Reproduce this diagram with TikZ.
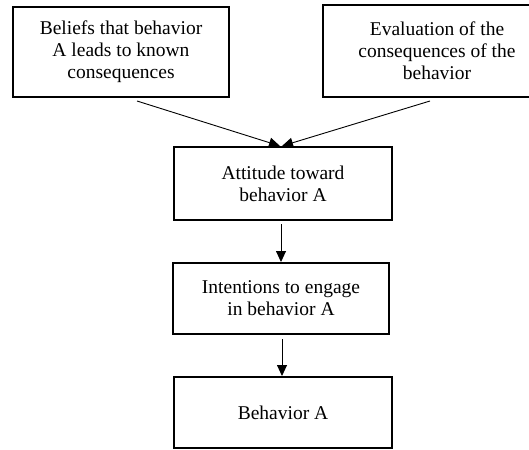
\documentclass[tikz,border=0pt]{standalone}
\usepackage{fontspec}
\setmainfont{Liberation Serif}
\usetikzlibrary{arrows.meta,calc}
\begin{document}
\begin{tikzpicture}[x=1pt,y=-1pt,
  box/.style={draw, line width=2pt, align=center, inner sep=0pt,
    font=\fontsize{19.5}{22}\selectfont},
  flow/.style={line width=0.9pt, -{Triangle[length=11pt,width=10pt]}}]
\useasboundingbox (0,0) rectangle (529,449);
\clip (0,0) rectangle (529,449);

% two inputs at the top
\node[box, minimum width=216pt, minimum height=90pt] (beliefs) at (121,52)
  {Beliefs that behavior\\A leads to known\\consequences};
\node[box, minimum width=228pt, minimum height=92pt] (evaluation) at (437,51)
  {Evaluation of the\\consequences of the\\behavior};

% the chain down the middle
\node[box, minimum width=218pt, minimum height=73pt] (attitude) at (283,183.5)
  {Attitude toward\\behavior A};
\node[box, minimum width=216pt, minimum height=71pt] (intention) at (281,298.5)
  {Intentions to engage\\in behavior A};
\node[box, minimum width=218pt, minimum height=71pt] (behavior) at (283,412.5)
  {Behavior A};

% connectors
\coordinate (b-out) at ($(beliefs.south)+(16,3)$);
\coordinate (e-out) at ($(evaluation.south)+(-7,3)$);
\draw[flow] (b-out) -- ($(attitude.north)+(-3,0)$);
\draw[flow] (e-out) -- ($(attitude.north)+(-1,0)$);
\draw[flow] ($(attitude.south -| intention.north)+(0,3)$) -- (intention.north);
\draw[flow] ($(intention.south)+(1,4)$) -- (behavior.north -| 282,0);
\end{tikzpicture}
\end{document}
